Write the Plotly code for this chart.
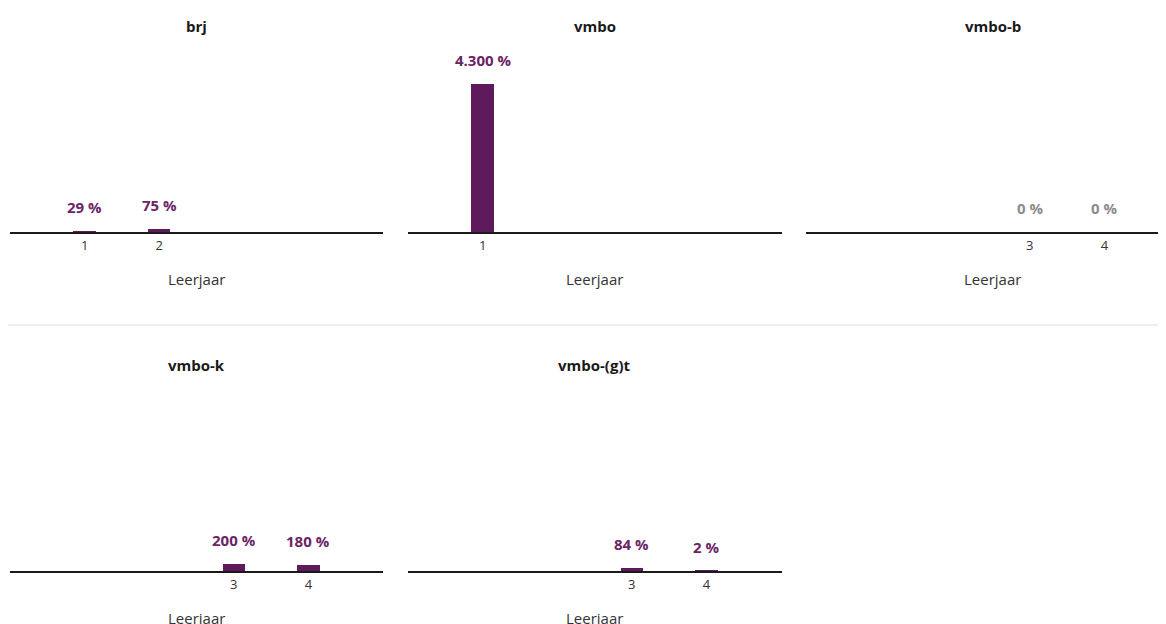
import plotly.graph_objects as go

# ---- data ----
panel_titles = ["brj", "vmbo", "vmbo-b", "vmbo-k", "vmbo-(g)t"]
brj_years = [1, 2]
brj_values = [29, 75]
vmbo_years = [1]
vmbo_values = [4300]
vmbob_years = [3, 4]
vmbob_values = [0, 0]
vmbok_years = [3, 4]
vmbok_values = [200, 180]
vmbogt_years = [3, 4]
vmbogt_values = [84, 2]
x_title = "Leerjaar"

panels = [
    (brj_years, brj_values),
    (vmbo_years, vmbo_values),
    (vmbob_years, vmbob_values),
    (vmbok_years, vmbok_values),
    (vmbogt_years, vmbogt_values),
]

OFF = 8  # page body margin
W, H = 1166 - OFF, 624 - OFF
FONT = "Open Sans"
BAR = "#5e1a5b"
LBL = "#6b2466"
ZERO = "#8c8c8c"
unit_px = 74.6  # px per year on x

# pixel geometry of each panel in page pixels: (left, right, baseline)
geo = [
    (10, 383, 232),
    (408, 782, 232),
    (806, 1166, 232),
    (10, 383, 571),
    (408, 782, 571),
]
plot_h = 172
ymax = 5000


def nl(v):
    return f"{v:,}".replace(",", ".") + " %"


def px_x(p):
    return (p - OFF) / W


def px_y(p):
    return (H - (p - OFF)) / H


fig = go.Figure()
layout = dict(
    width=W, height=H,
    margin=dict(l=0, r=0, t=0, b=0),
    paper_bgcolor="white", plot_bgcolor="white",
    showlegend=False, bargap=0,
    font=dict(family=FONT, color="#333333"),
)
annotations = []
for i, ((xs, ys), (l, r, base), title) in enumerate(zip(panels, geo, panel_titles)):
    n = "" if i == 0 else str(i + 1)
    xa, ya = "x" + n, "y" + n
    fig.add_trace(go.Bar(
        x=xs, y=ys, width=0.3, marker=dict(color=BAR, line=dict(width=0)),
        xaxis=xa, yaxis=ya, hoverinfo="x+y",
    ))
    xr = (r - l) / unit_px
    layout["xaxis" + n] = dict(
        domain=[px_x(l), px_x(r)], range=[0, xr], anchor=ya,
        tickvals=xs, ticktext=[str(v) for v in xs], ticks="",
        showgrid=False, zeroline=False, showline=True, linecolor="#1a1a1a", linewidth=2,
        tickfont=dict(size=13, color="#333333", family=FONT),
        fixedrange=True,
    )
    layout["yaxis" + n] = dict(
        domain=[px_y(base), px_y(base - plot_h)], range=[0, ymax],
        anchor=xa, visible=False, fixedrange=True,
    )
    cx = l + 373 / 2
    # panel title
    annotations.append(dict(
        text="<b>" + title + "</b>", x=px_x(cx), y=px_y(base - 206),
        xref="paper", yref="paper", showarrow=False, xanchor="center", yanchor="middle",
        font=dict(size=15, color="#1a1a1a", family=FONT),
    ))
    # axis title
    annotations.append(dict(
        text=x_title, x=px_x(cx), y=px_y(base + 47),
        xref="paper", yref="paper", showarrow=False, xanchor="center", yanchor="middle",
        font=dict(size=15, color="#333333", family=FONT),
    ))
    # value labels
    for xv, yv in zip(xs, ys):
        annotations.append(dict(
            text="<b>" + nl(yv) + "</b>", x=xv, y=yv, xref=xa, yref=ya,
            showarrow=False, xanchor="center", yanchor="bottom", yshift=12,
            font=dict(size=15, color=(ZERO if yv == 0 else LBL), family=FONT),
        ))

layout["annotations"] = annotations
layout["shapes"] = [dict(
    type="line", xref="paper", yref="paper", x0=0, x1=1,
    y0=px_y(325), y1=px_y(325), line=dict(color="#dddddd", width=1),
)]
fig.update_layout(**layout)
fig.write_html("out.html")
